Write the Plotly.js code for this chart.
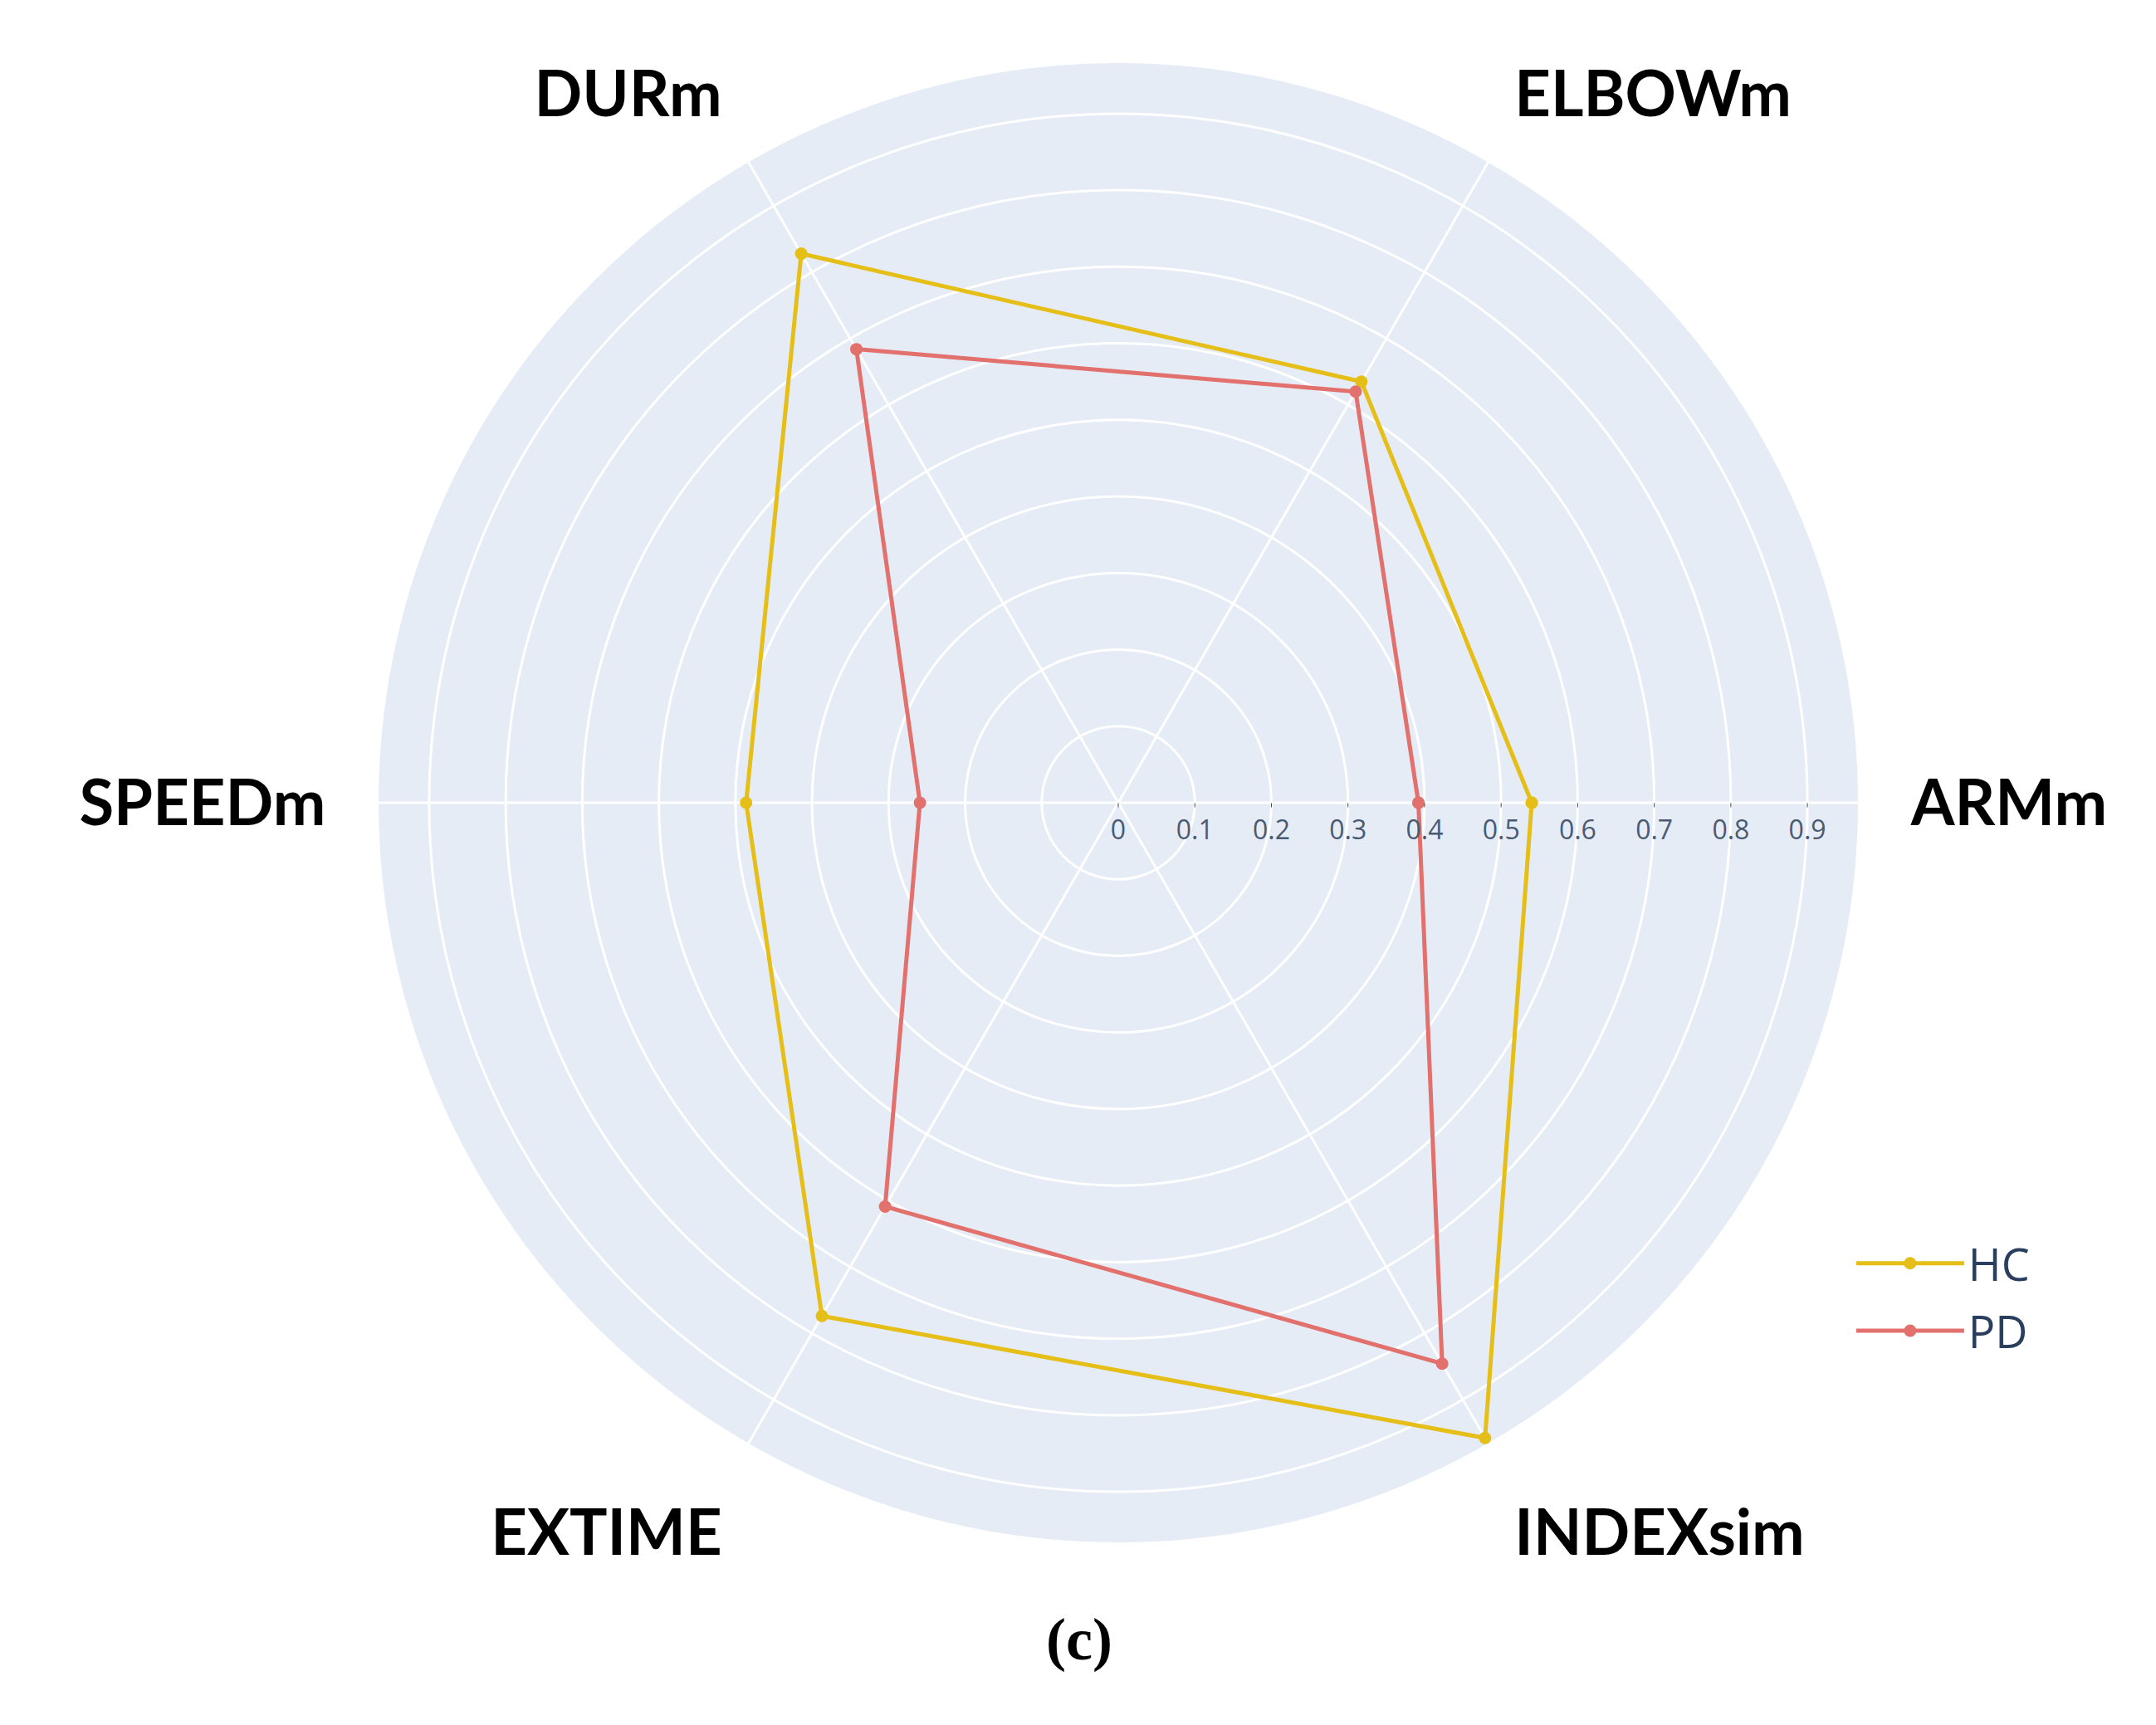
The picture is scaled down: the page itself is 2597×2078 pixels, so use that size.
<!DOCTYPE html>
<html>
<head>
<meta charset="utf-8">
<script src="https://cdn.plot.ly/plotly-3.0.1.min.js"></script>
<style>
  body { margin: 0; background: #fff; }
  #radar { width: 2597px; height: 2078px; }
</style>
</head>
<body>
<div id="radar"></div>
<script>
var categories = ["ARMm", "ELBOWm", "DURm", "SPEEDm", "EXTIME", "INDEXsim"];
var hcValues = [0.54, 0.635, 0.828, 0.486, 0.774, 0.958];
var pdValues = [0.392, 0.62, 0.684, 0.259, 0.609, 0.846];
var radialTicks = [0, 0.1, 0.2, 0.3, 0.4, 0.5, 0.6, 0.7, 0.8, 0.9];

// close the polygon by going back to the first category
function closed(arr) {
    return arr.concat([arr[0]]);
}

var hcTrace = {
    type: "scatterpolar",
    name: "HC",
    legendgroup: "hc",
    r: closed(hcValues),
    theta: closed(categories),
    mode: "lines+markers",
    line: { color: "#E6BE18", width: 5 },
    marker: { color: "#E6BE18", size: 15 }
};

var pdTrace = {
    type: "scatterpolar",
    name: "PD",
    legendgroup: "pd",
    r: closed(pdValues),
    theta: closed(categories),
    mode: "lines+markers",
    line: { color: "#E2706C", width: 5 },
    marker: { color: "#E2706C", size: 15 }
};

var layout = {
    width: 2597,
    height: 2078,
    paper_bgcolor: "#ffffff",
    margin: { l: 456, r: 359, t: 76, b: 220 },
    showlegend: true,
    legend: {
        x: 0.996,
        y: 0.212,
        xanchor: "left",
        yanchor: "top",
        bgcolor: "rgba(255,255,255,0)",
        itemwidth: 130,
        font: { family: "Open Sans", size: 54, color: "#2a3f5f" },
        tracegroupgap: 8
    },
    polar: {
        bgcolor: "#E5ECF6",
        radialaxis: {
            range: [0, 0.966],
            tickvals: radialTicks,
            ticktext: radialTicks.map(String),
            angle: 0,
            showline: false,
            gridcolor: "#ffffff",
            gridwidth: 3,
            tickfont: { family: "Open Sans", size: 32, color: "#4a5a72" }
        },
        angularaxis: {
            type: "category",
            categoryarray: categories,
            rotation: 0,
            direction: "counterclockwise",
            showline: false,
            gridcolor: "#ffffff",
            gridwidth: 3,
            ticks: "outside",
            ticklen: 48,
            tickcolor: "rgba(0,0,0,0)",
            tickfont: { family: "Lato", size: 76, color: "#000000", weight: 700 }
        }
    },
    annotations: [
        {
            text: "<b>(c)</b>",
            xref: "paper",
            yref: "paper",
            x: 0.4739,
            y: -0.089,
            showarrow: false,
            font: { family: "Liberation Serif", size: 72, color: "#000000" }
        }
    ]
};

Plotly.newPlot("radar", [hcTrace, pdTrace], layout, { displayModeBar: false });
</script>
</body>
</html>
